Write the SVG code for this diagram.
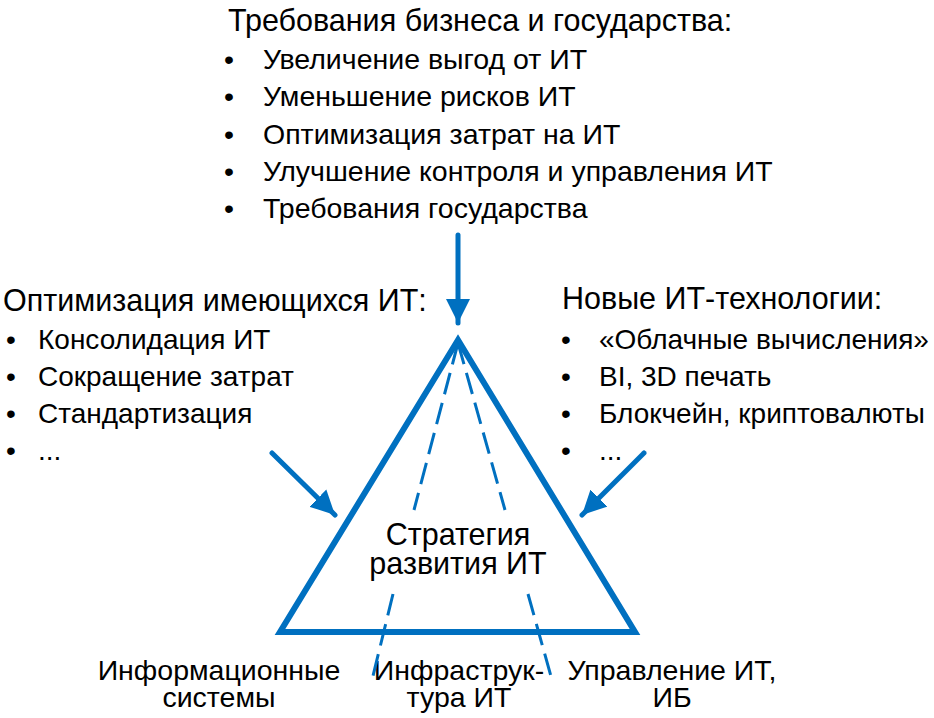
<svg xmlns="http://www.w3.org/2000/svg" width="934" height="718" viewBox="0 0 934 718">
<style>
text{font-family:"Liberation Sans",Arial,sans-serif;font-size:28px;fill:#000}
.t{font-size:30.5px}
.ti{font-size:28.5px}
.ctr{font-size:30.5px}
.bl{font-size:28.5px}
.c{text-anchor:middle}
.blue{stroke:#0070C0;fill:none}
.arr{stroke:#0070C0;stroke-width:5;stroke-linecap:round;fill:none}
.dash{stroke:#0070C0;stroke-width:3;fill:none;stroke-dasharray:22 9}
</style>
<defs>
<marker id="ah" viewBox="0 0 10 10" refX="10" refY="5" markerWidth="4.8" markerHeight="5" markerUnits="strokeWidth" orient="auto">
<path d="M0,0 L10,5 L0,10 Z" fill="#0070C0"/>
</marker>
</defs>
<rect width="934" height="718" fill="#fff"/>
<g id="top-block">
<text class="t" x="228" y="31">Требования бизнеса и государства:</text>
<text class="ti" x="224" y="69">•</text><text class="ti" x="263" y="69">Увеличение выгод от ИТ</text>
<text class="ti" x="224" y="106">•</text><text class="ti" x="263" y="106">Уменьшение рисков ИТ</text>
<text class="ti" x="224" y="144">•</text><text class="ti" x="263" y="144">Оптимизация затрат на ИТ</text>
<text class="ti" x="224" y="181">•</text><text class="ti" x="263" y="181">Улучшение контроля и управления ИТ</text>
<text class="ti" x="224" y="218">•</text><text class="ti" x="263" y="218">Требования государства</text>
</g>
<g id="left-block">
<text class="t" x="3" y="311">Оптимизация имеющихся ИТ:</text>
<text x="6" y="349">•</text><text x="38" y="349">Консолидация ИТ</text>
<text x="6" y="386">•</text><text x="38" y="386">Сокращение затрат</text>
<text x="6" y="423">•</text><text x="38" y="423">Стандартизация</text>
<text x="6" y="460">•</text><text x="38" y="460">...</text>
</g>
<g id="right-block">
<text class="t" x="562" y="309">Новые ИТ-технологии:</text>
<text x="561" y="349">•</text><text x="599" y="349">«Облачные вычисления»</text>
<text x="561" y="386">•</text><text x="599" y="386">BI, 3D печать</text>
<text x="561" y="423">•</text><text x="599" y="423">Блокчейн, криптовалюты</text>
<text x="561" y="460">•</text><text x="599" y="460">...</text>
</g>
<g id="triangle">
<polygon class="blue" points="458,340 280,632 635,632" stroke-width="6" stroke-linejoin="miter"/>
</g>
<g id="center-label">
<text class="c ctr" x="458" y="545">Стратегия</text>
<text class="c ctr" x="458" y="574">развития ИТ</text>
</g>
<g id="bottom-labels">
<text class="c bl" x="219" y="680">Информационные</text>
<text class="c bl" x="219" y="707">системы</text>
<text class="c bl" x="459" y="680">Инфраструк-</text>
<text class="c bl" x="459" y="707">тура ИТ</text>
<text class="c bl" x="672" y="680">Управление ИТ,</text>
<text class="c bl" x="672" y="707">ИБ</text>
</g>
<g id="connectors">
<line class="dash" x1="458" y1="343" x2="414" y2="510"/>
<line class="dash" x1="393" y1="594" x2="372" y2="680"/>
<line class="dash" x1="458" y1="343" x2="505" y2="510"/>
<line class="dash" x1="528" y1="594" x2="552" y2="680"/>
<line class="arr" x1="458" y1="235" x2="458" y2="323" marker-end="url(#ah)"/>
<line class="arr" x1="272" y1="453" x2="335" y2="515" marker-end="url(#ah)"/>
<line class="arr" x1="644" y1="453" x2="582" y2="515" marker-end="url(#ah)"/>
</g>
</svg>
